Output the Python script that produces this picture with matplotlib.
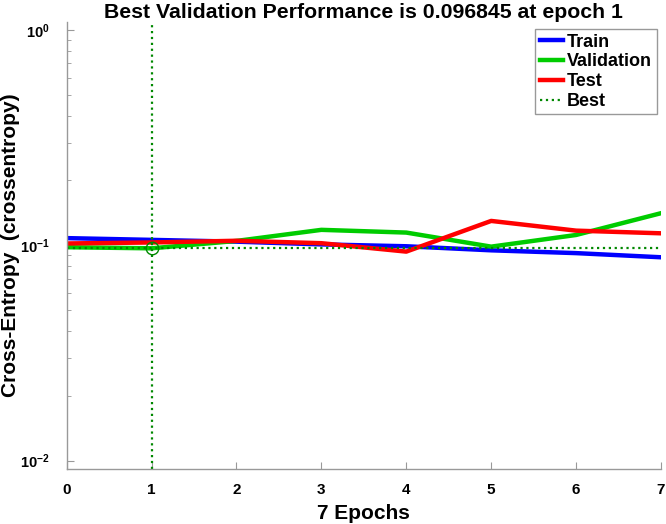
import matplotlib
matplotlib.use('Agg')
import matplotlib.pyplot as plt
from matplotlib.ticker import FixedLocator, FixedFormatter, LogLocator, NullFormatter

plt.rcParams['font.family'] = ['Liberation Sans', 'DejaVu Sans']
plt.rcParams['font.weight'] = 'bold'
plt.rcParams['mathtext.fontset'] = 'custom'
plt.rcParams['mathtext.rm'] = 'Liberation Sans:bold'
plt.rcParams['mathtext.bf'] = 'Liberation Sans:bold'
plt.rcParams['mathtext.default'] = 'bf'

epochs = [0, 1, 2, 3, 4, 5, 6, 7]
train = [0.108, 0.106, 0.104, 0.101, 0.099, 0.0948, 0.092, 0.088]
validation = [0.098, 0.096845, 0.1048, 0.118, 0.1146, 0.0986, 0.1117, 0.141]
test = [0.102, 0.1031, 0.105, 0.1023, 0.0935, 0.1298, 0.117, 0.1137]
best_epoch = 1
best_perf = 0.096845

y_ticks = [1e-2, 1e-1, 1e0]
y_tick_labels = [r'$10^{-2}$', r'$10^{-1}$', r'$10^{0}$']

fig = plt.figure(figsize=(6.66, 5.24), dpi=100)
ax = fig.add_axes([0.100, 0.105, 0.8925, 0.853])

ax.plot(epochs, train, color='#0000FF', linewidth=3.2, label='Train')
ax.plot(epochs, validation, color='#00CC00', linewidth=3.2, label='Validation')
ax.plot(epochs, test, color='#FF0000', linewidth=3.2, label='Test')

best_color = '#008800'
ax.axhline(best_perf, color=best_color, linestyle=':', linewidth=1.6, label='Best')
ax.axvline(best_epoch, color=best_color, linestyle=':', linewidth=1.6)
ax.plot([best_epoch], [best_perf], marker='o', markersize=9, markerfacecolor='none',
        markeredgecolor=best_color, markeredgewidth=1.0, linestyle='none')

ax.set_yscale('log')
ax.set_xlim(0, 7)
ax.set_ylim(10 ** -2.0386, 10 ** 0.037)

ax.yaxis.set_major_locator(FixedLocator(y_ticks))
ax.yaxis.set_major_formatter(FixedFormatter(y_tick_labels))
ax.yaxis.set_minor_locator(LogLocator(base=10, subs=[2, 3, 4, 5, 6, 7, 8, 9]))
ax.yaxis.set_minor_formatter(NullFormatter())
ax.set_xticks(epochs)

for side in ['top', 'right']:
    ax.spines[side].set_visible(False)
for side in ['left', 'bottom']:
    ax.spines[side].set_color('#999999')
    ax.spines[side].set_linewidth(1.0)

ax.tick_params(axis='both', which='major', direction='in', length=5, color='#999999',
               labelsize=11)
ax.tick_params(axis='y', which='minor', direction='in', length=3, color='#999999')
ax.tick_params(axis='x', pad=10)
ax.tick_params(axis='y', pad=12, labelsize=10.5)

ax.set_title('Best Validation Performance is 0.096845 at epoch 1', fontsize=15.3,
             fontweight='bold', pad=1)
ax.set_xlabel('7 Epochs', fontsize=15, fontweight='bold', labelpad=5)
ax.set_ylabel('Cross-Entropy  (crossentropy)', fontsize=15, fontweight='bold')
ax.yaxis.set_label_coords(-0.079, 0.5)

leg = ax.legend(loc='upper right', bbox_to_anchor=(0.9985, 0.992), fontsize=13,
                handlelength=1.3, handletextpad=0.2, borderpad=0.25, labelspacing=0.15,
                fancybox=False, framealpha=1, borderaxespad=0.2)
leg.get_frame().set_edgecolor('#999999')
leg.get_frame().set_linewidth(1.0)

plt.savefig('out.png', dpi=100)
